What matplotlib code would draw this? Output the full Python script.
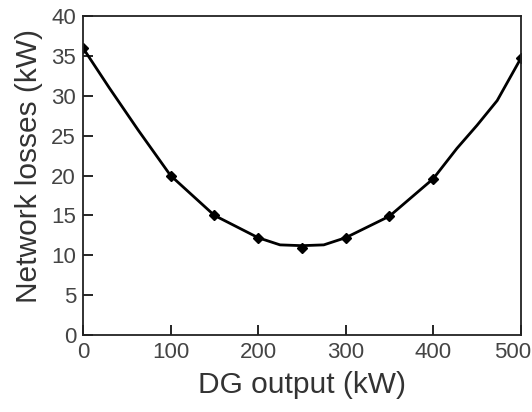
import matplotlib
matplotlib.use("Agg")
import matplotlib.pyplot as plt
import matplotlib.transforms as mtransforms

# Marker data (DG output kW, network losses kW)
dg_points = [0, 100, 150, 200, 250, 300, 350, 400, 500]
loss_points = [36.0, 20.0, 15.0, 12.2, 10.9, 12.2, 14.9, 19.6, 34.7]

# Curve
dg_curve = [0, 30, 63, 100, 150, 200, 225, 250, 275, 300, 350, 400, 427, 450, 473, 500]
loss_curve = [36.0, 31.0, 25.7, 20.0, 15.0, 12.2, 11.3, 11.2, 11.3, 12.2, 14.9, 19.6, 23.4, 26.3, 29.4, 34.7]

x_ticks = [0, 100, 200, 300, 400, 500]
y_ticks = [0, 5, 10, 15, 20, 25, 30, 35, 40]

plt.rcParams['font.family'] = ['Liberation Sans', 'DejaVu Sans']

fig = plt.figure(figsize=(5.32, 4.12), dpi=100)
ax = fig.add_axes([0.156, 0.187, 0.823, 0.774])

ax.plot(dg_curve, loss_curve, color='black', lw=2.0, solid_joinstyle='round')
ax.plot(dg_points, loss_points, linestyle='none', marker='D', ms=5, color='black')

ax.set_xlim(0, 500)
ax.set_ylim(0, 40)
ax.set_xticks(x_ticks)
ax.set_yticks(y_ticks)
ax.tick_params(direction='in', length=7, width=1.2, labelsize=16,
               labelcolor='#444444', top=False, right=False, pad=5)
for s in ax.spines.values():
    s.set_linewidth(1.3)
    s.set_color('#222222')

ax.set_xlabel('DG output (kW)', fontsize=21.5, color='#333333', labelpad=6)
ax.set_ylabel('Network losses (kW)', fontsize=21.5, color='#333333', labelpad=6)
ax.yaxis.label.set_y(0.53)

fig.canvas.draw()
last = ax.get_xticklabels()[-1]
last.set_transform(last.get_transform() +
                   mtransforms.ScaledTranslation(-8 / 100, 0, fig.dpi_scale_trans))

fig.savefig('out.png', dpi=100)
